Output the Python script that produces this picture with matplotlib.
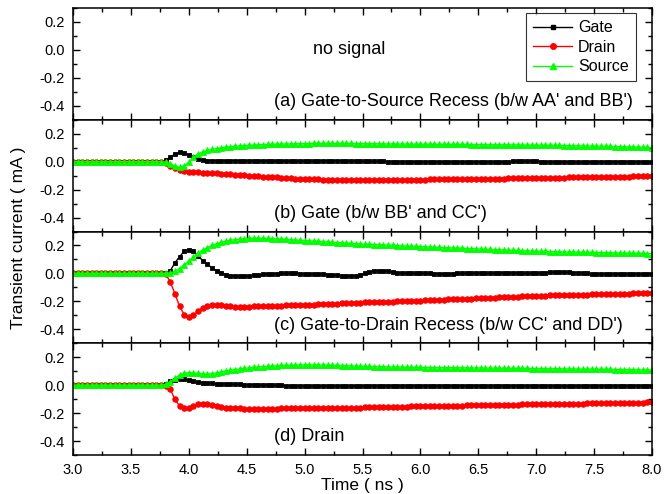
import numpy as np
import matplotlib
matplotlib.use("Agg")
import matplotlib.pyplot as plt
from matplotlib.ticker import MultipleLocator, FormatStrFormatter

plt.rcParams['font.family'] = ['Liberation Sans', 'DejaVu Sans']
plt.rcParams['axes.unicode_minus'] = False

# time grid (ns), sampled every 0.04 ns from 3.0 to 8.0
time_start, time_step, n_pts = 3.0, 0.04, 126
time_ns = time_start + time_step * np.arange(n_pts)

series_names = ["Gate", "Drain", "Source"]
panel_labels = ["(a) Gate-to-Source Recess (b/w AA' and BB')",
                "(b) Gate (b/w BB' and CC')",
                "(c) Gate-to-Drain Recess (b/w CC' and DD')",
                "(d) Drain"]
Z20 = [0.0] * 20  # flat baseline before 3.80 ns

# ---- panel (b) ----
gate_b = Z20 + [0.01, 0.03, 0.055, 0.066, 0.064, 0.05, 0.03, 0.016, 0.01,
    0.008, 0.008, 0.007, 0.007, 0.007, 0.006, 0.006, 0.006, 0.005, 0.005, 0.005,
    0.005, 0.005, 0.004, 0.004, 0.004, 0.004, 0.004, 0.003, 0.003, 0.003, 0.003,
    0.003, 0.003, 0.004, 0.005, 0.006, 0.007, 0.007, 0.006, 0.005, 0.004, 0.003, 0.003,
    0.003, 0.002, 0.002, 0.002, 0.002, 0.001, 0.001, 0.001, 0.001, 0.001, 0.0, 0.0, 0.0,
    0.0, 0.0, 0.0, 0.0, 0.0, 0.0, 0.0, -0.001, -0.001, -0.001, -0.001, -0.001, -0.001,
    -0.001, -0.001, -0.001, 0.0, 0.0, 0.001, 0.002, 0.003, 0.004, 0.004, 0.003, 0.002,
    0.001, 0.0, 0.0, -0.001, -0.002, -0.003, -0.004, -0.005, -0.005, -0.005, -0.004,
    -0.003, -0.002, -0.001, 0.0, 0.0, 0.0, 0.0, 0.0, 0.0, 0.0, 0.0, 0.0, 0.0, 0.0]
drain_b = Z20 + [-0.01, -0.03, -0.048, -0.06, -0.068, -0.072, -0.075, -0.077, -0.079,
    -0.08, -0.082, -0.084, -0.087, -0.089, -0.091, -0.094, -0.096, -0.098, -0.1, -0.102,
    -0.105, -0.107, -0.109, -0.111, -0.113, -0.115, -0.117, -0.119, -0.121, -0.122, -0.124,
    -0.125, -0.126, -0.127, -0.128, -0.129, -0.13, -0.13, -0.131, -0.131, -0.132, -0.132, -0.132,
    -0.132, -0.132, -0.132, -0.131, -0.131, -0.131, -0.13, -0.13, -0.13, -0.129, -0.129, -0.128, -0.128,
    -0.128, -0.127, -0.127, -0.127, -0.126, -0.126, -0.126, -0.125, -0.125, -0.124, -0.124, -0.124,
    -0.123, -0.123, -0.122, -0.122, -0.121, -0.121, -0.12, -0.12, -0.119, -0.119, -0.118, -0.117, -0.117,
    -0.116, -0.116, -0.115, -0.115, -0.114, -0.114, -0.113, -0.113, -0.112, -0.112, -0.111, -0.111,
    -0.11, -0.11, -0.109, -0.109, -0.108, -0.108, -0.107, -0.107, -0.106, -0.106, -0.105, -0.105, -0.104]
source_b = Z20 + [-0.005, -0.018, -0.032, -0.04, -0.03, -0.005, 0.03, 0.055, 0.07,
    0.08, 0.088, 0.094, 0.099, 0.103, 0.107, 0.11, 0.113, 0.115, 0.117, 0.119,
    0.121, 0.122, 0.123, 0.124, 0.125, 0.126, 0.127, 0.127, 0.128, 0.128, 0.129,
    0.129, 0.13, 0.13, 0.13, 0.13, 0.13, 0.13, 0.13, 0.13, 0.13, 0.129, 0.129,
    0.129, 0.128, 0.128, 0.128, 0.127, 0.127, 0.127, 0.126, 0.126, 0.126, 0.125, 0.125, 0.125,
    0.125, 0.125, 0.124, 0.124, 0.124, 0.124, 0.123, 0.123, 0.123, 0.123, 0.122, 0.122, 0.122,
    0.122, 0.121, 0.121, 0.121, 0.121, 0.12, 0.12, 0.12, 0.119, 0.119, 0.119, 0.118,
    0.118, 0.117, 0.117, 0.116, 0.116, 0.115, 0.115, 0.114, 0.113, 0.113, 0.112, 0.111,
    0.111, 0.11, 0.109, 0.109, 0.108, 0.107, 0.106, 0.106, 0.105, 0.104, 0.103, 0.102, 0.101]

# ---- panel (c) ----
gate_c = Z20 + [0.0, 0.02, 0.075, 0.12, 0.158, 0.17, 0.158, 0.125, 0.092,
    0.065, 0.04, 0.02, 0.004, -0.008, -0.015, -0.02, -0.021, -0.02, -0.017, -0.014,
    -0.01, -0.007, -0.004, -0.002, -0.001, 0.0, 0.0, 0.0, 0.0, -0.001, -0.002,
    -0.003, -0.004, -0.005, -0.006, -0.008, -0.01, -0.012, -0.015, -0.017, -0.018, -0.016, -0.01,
    0.0, 0.01, 0.018, 0.02, 0.018, 0.014, 0.01, 0.006, 0.003, 0.001, 0.0, 0.0, 0.0,
    0.0, 0.0, -0.001, -0.002, -0.002, -0.002, -0.001, 0.0, 0.0, 0.0, 0.0, 0.0, 0.0,
    0.0, 0.0, 0.001, 0.002, 0.003, 0.003, 0.003, 0.002, 0.001, 0.0, 0.0, 0.001,
    0.003, 0.005, 0.007, 0.008, 0.009, 0.009, 0.008, 0.006, 0.004, 0.002, 0.0, -0.002,
    -0.003, -0.004, -0.004, -0.004, -0.003, -0.002, -0.002, -0.002, -0.003, -0.004, -0.005, -0.005, -0.005]
drain_c = Z20 + [-0.005, -0.06, -0.145, -0.235, -0.295, -0.315, -0.298, -0.268, -0.247,
    -0.235, -0.228, -0.226, -0.228, -0.232, -0.236, -0.238, -0.239, -0.238, -0.237, -0.236,
    -0.235, -0.234, -0.233, -0.232, -0.231, -0.23, -0.229, -0.228, -0.227, -0.226, -0.225,
    -0.224, -0.223, -0.222, -0.221, -0.22, -0.218, -0.217, -0.215, -0.213, -0.212, -0.21, -0.209,
    -0.208, -0.207, -0.206, -0.205, -0.204, -0.203, -0.202, -0.2, -0.199, -0.198, -0.197, -0.195, -0.194,
    -0.193, -0.192, -0.19, -0.189, -0.188, -0.186, -0.185, -0.184, -0.182, -0.181, -0.18, -0.178,
    -0.177, -0.176, -0.174, -0.173, -0.172, -0.17, -0.169, -0.168, -0.166, -0.165, -0.164, -0.162, -0.161,
    -0.16, -0.159, -0.158, -0.158, -0.157, -0.156, -0.155, -0.154, -0.153, -0.153, -0.152, -0.151,
    -0.15, -0.149, -0.148, -0.148, -0.147, -0.146, -0.145, -0.144, -0.143, -0.143, -0.142, -0.141, -0.14]
source_c = Z20 + [0.0, 0.003, 0.015, 0.035, 0.06, 0.088, 0.117, 0.145, 0.168,
    0.185, 0.2, 0.212, 0.222, 0.23, 0.237, 0.242, 0.246, 0.249, 0.251, 0.252,
    0.252, 0.251, 0.25, 0.249, 0.247, 0.245, 0.243, 0.241, 0.239, 0.237, 0.235,
    0.233, 0.231, 0.229, 0.227, 0.225, 0.223, 0.221, 0.219, 0.217, 0.215, 0.213, 0.211,
    0.209, 0.208, 0.206, 0.205, 0.204, 0.202, 0.201, 0.199, 0.198, 0.196, 0.195, 0.193, 0.192,
    0.191, 0.189, 0.188, 0.186, 0.185, 0.184, 0.182, 0.181, 0.18, 0.178, 0.177, 0.176,
    0.174, 0.173, 0.172, 0.17, 0.169, 0.168, 0.166, 0.165, 0.164, 0.162, 0.161, 0.16, 0.158,
    0.157, 0.157, 0.156, 0.155, 0.155, 0.154, 0.153, 0.153, 0.152, 0.151, 0.151, 0.15,
    0.149, 0.149, 0.148, 0.147, 0.147, 0.146, 0.145, 0.145, 0.144, 0.143, 0.143, 0.142, 0.141]

# ---- panel (d) ----
gate_d = Z20 + [0.01, 0.03, 0.04, 0.045, 0.042, 0.035, 0.028, 0.022, 0.018,
    0.015, 0.012, 0.01, 0.009, 0.008, 0.007, 0.006, 0.005, 0.004, 0.003, 0.002,
    0.001, 0.0, 0.0, -0.001, -0.002, -0.002, -0.003, -0.003, -0.004, -0.004, -0.004,
    -0.004, -0.004, -0.005, -0.005, -0.005, -0.005, -0.005, -0.005, -0.004, -0.004, -0.004, -0.004,
    -0.003, -0.003, -0.003, -0.003, -0.003, -0.003, -0.003, -0.003, -0.003, -0.003, -0.003, -0.003, -0.003,
    -0.003, -0.003, -0.003, -0.003, -0.003, -0.003, -0.003, -0.003, -0.003, -0.003, -0.003, -0.003,
    -0.003, -0.003, -0.003, -0.003, -0.003, -0.003, -0.003, -0.003, -0.003, -0.003, -0.003, -0.003, -0.003,
    -0.003, -0.003, -0.003, -0.004, -0.004, -0.005, -0.005, -0.005, -0.004, -0.004, -0.003, -0.003,
    -0.003, -0.003, -0.003, -0.003, -0.003, -0.003, -0.003, -0.003, -0.003, -0.003, -0.003, -0.003, -0.003]
drain_d = Z20 + [-0.005, -0.03, -0.1, -0.15, -0.166, -0.163, -0.15, -0.138, -0.134,
    -0.136, -0.142, -0.149, -0.155, -0.16, -0.164, -0.166, -0.167, -0.168, -0.168, -0.168,
    -0.168, -0.168, -0.168, -0.168, -0.168, -0.167, -0.167, -0.167, -0.166, -0.166, -0.166,
    -0.165, -0.165, -0.164, -0.164, -0.163, -0.163, -0.162, -0.162, -0.161, -0.161, -0.16, -0.16,
    -0.159, -0.159, -0.158, -0.157, -0.157, -0.156, -0.155, -0.155, -0.154, -0.153, -0.152, -0.151, -0.15,
    -0.15, -0.149, -0.149, -0.148, -0.148, -0.147, -0.147, -0.146, -0.146, -0.145, -0.144, -0.144,
    -0.143, -0.143, -0.142, -0.142, -0.141, -0.141, -0.14, -0.14, -0.139, -0.138, -0.138, -0.137, -0.137,
    -0.136, -0.136, -0.135, -0.135, -0.134, -0.134, -0.133, -0.133, -0.132, -0.132, -0.131, -0.131,
    -0.13, -0.13, -0.129, -0.128, -0.128, -0.127, -0.127, -0.126, -0.126, -0.125, -0.125, -0.124, -0.124]
source_d = Z20 + [0.005, 0.025, 0.05, 0.072, 0.085, 0.09, 0.088, 0.084, 0.08,
    0.079, 0.082, 0.088, 0.095, 0.101, 0.107, 0.112, 0.116, 0.12, 0.124, 0.127,
    0.13, 0.133, 0.135, 0.137, 0.139, 0.141, 0.142, 0.143, 0.144, 0.145, 0.145,
    0.145, 0.145, 0.144, 0.144, 0.143, 0.142, 0.141, 0.14, 0.139, 0.138, 0.137, 0.136,
    0.135, 0.134, 0.133, 0.133, 0.132, 0.131, 0.13, 0.13, 0.129, 0.128, 0.128, 0.127, 0.127,
    0.126, 0.126, 0.126, 0.125, 0.125, 0.125, 0.125, 0.124, 0.124, 0.124, 0.123, 0.123,
    0.123, 0.122, 0.122, 0.122, 0.121, 0.121, 0.121, 0.12, 0.12, 0.12, 0.12, 0.119, 0.119,
    0.119, 0.118, 0.118, 0.118, 0.117, 0.117, 0.116, 0.116, 0.116, 0.115, 0.115, 0.114,
    0.114, 0.113, 0.113, 0.113, 0.112, 0.112, 0.111, 0.111, 0.11, 0.11, 0.109, 0.109, 0.108]

panels = [None,
          (gate_b, drain_b, source_b),
          (gate_c, drain_c, source_c),
          (gate_d, drain_d, source_d)]

for p in panels[1:]:
    for s in p:
        assert len(s) == n_pts, len(s)

colors = ['#000000', '#ff0000', '#00ff00']
markers = ['s', 'o', '^']
msizes = [3.4, 4.0, 4.8]

fig = plt.figure(figsize=(6.66, 4.94), dpi=100)
left, right = 73 / 666, 652 / 666
top, bottom = 1 - 8 / 494, 1 - 455 / 494
axes = fig.subplots(4, 1, sharex=True,
                    gridspec_kw=dict(left=left, right=right, top=top, bottom=bottom, hspace=0))

for k, ax in enumerate(axes):
    data = panels[k]
    if data is not None:
        for s, name, c, m, ms in zip(data, series_names, colors, markers, msizes):
            ax.plot(time_ns, s, color=c, marker=m, markersize=ms, lw=1.0,
                    markeredgewidth=0.6, label=name)
    else:
        for name, c, m, ms in zip(series_names, colors, markers, msizes):
            ax.plot([], [], color=c, marker=m, markersize=ms, lw=1.0, label=name)
    ax.set_xlim(3.0, 8.0)
    ax.set_ylim(-0.5, 0.3)
    ax.yaxis.set_major_locator(MultipleLocator(0.2))
    ax.yaxis.set_minor_locator(MultipleLocator(0.1))
    ax.xaxis.set_major_locator(MultipleLocator(0.5))
    ax.xaxis.set_minor_locator(MultipleLocator(0.25))
    ax.yaxis.set_major_formatter(FormatStrFormatter('%.1f'))
    ax.xaxis.set_major_formatter(FormatStrFormatter('%.1f'))
    ax.tick_params(which='both', direction='in', top=True, right=True, width=1.0,
                   labelsize=10.5, pad=6)
    ax.tick_params(which='major', length=5)
    ax.tick_params(which='minor', length=3)
    for sp in ax.spines.values():
        sp.set_linewidth(1.1)
    ax.text(4.74, -0.37, panel_labels[k], fontsize=13, ha='left', va='center')

axes[0].text(5.07, 0.0, "no signal", fontsize=13, ha='left', va='center')
leg = axes[0].legend(loc='upper right', bbox_to_anchor=(0.9724, 0.955), borderaxespad=0,
                     fontsize=11.5, frameon=True, fancybox=False, handlelength=2.4,
                     handletextpad=0.4, labelspacing=0.28, borderpad=0.45)
leg.get_frame().set_edgecolor('black')
leg.get_frame().set_linewidth(0.8)

fig.text(19 / 666, 1 - 238 / 494, "Transient current ( mA )", rotation=90,
         fontsize=12.5, ha='center', va='center')
fig.text((73 + 652) / 2 / 666, 1 - 478 / 494, "Time ( ns )", fontsize=12.5,
         ha='center', va='top')

fig.savefig("out.png", dpi=100)
